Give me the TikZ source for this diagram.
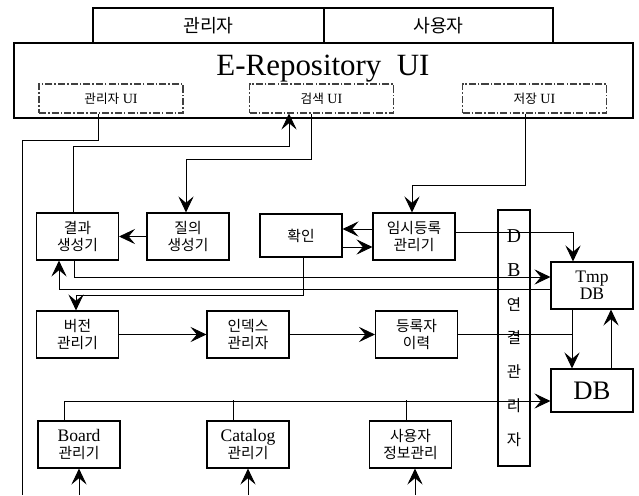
\documentclass[tikz,border=0pt]{standalone}
\usepackage{fontspec}
\setmainfont{Liberation Serif}
\newfontfamily\kr{Noto Sans CJK KR}
\usetikzlibrary{arrows.meta}
\usetikzlibrary{calc}

\begin{document}
\begin{tikzpicture}[x=0.25mm,y=0.25mm,line width=0.6pt,
  blk/.style={draw,line width=0.8pt,minimum width=20.5mm,minimum height=11.75mm,align=center,inner sep=1pt,font=\fontsize{12.5}{12}\selectfont},
  kr/.style={font=\kr\fontsize{10.5}{11.5}\selectfont},
  subui/.style={draw=black!75,line width=0.8pt,dash pattern=on 5pt off 1.5pt on 1pt off 1.5pt,minimum width=36mm,minimum height=7.25mm,font=\fontsize{10}{10}\selectfont},
  arr/.style={-{Stealth[length=4mm,width=3.8mm,inset=1.6mm]}}]
\useasboundingbox (0,0) rectangle (639,495);
\node[draw,line width=0.8pt,minimum width=154.75mm,minimum height=18.75mm] (ui) at (323.5,414.5) {};
\node[draw,line width=0.8pt,minimum width=57.75mm,minimum height=8.75mm,font=\kr\fontsize{13}{15}\selectfont] (tabA) at (208.5,469.5) {관리자};
\node[draw,line width=0.8pt,minimum width=57.25mm,minimum height=8.75mm,font=\kr\fontsize{13}{15}\selectfont] (tabU) at (438.5,469.5) {사용자};
\node[font=\fontsize{22}{26}\selectfont] (title) at (323,426) {E-Repository\ \ UI};
\node[subui] (admUI) at (111,396.5) {{\kr\fontsize{9}{10}\selectfont 관리자} UI};
\node[subui] (srchUI) at (321.5,396.5) {{\kr\fontsize{9}{10}\selectfont 검색} UI};
\node[subui] (saveUI) at (534.5,396.5) {{\kr\fontsize{9}{10}\selectfont 저장} UI};
\node[blk,kr] (res) at (77.5,258.5) {결과\\생성기};
\node[blk,kr] (qry) at (188,258.5) {질의\\생성기};
\node[blk,kr,minimum height=10.75mm] (chk) at (301,259.5) {확인};
\node[blk,kr] (tmpreg) at (414,258.5) {임시등록\\관리기};
\node[blk] (tmpdb) at (592,209.5) {Tmp\\DB};
\node[blk,kr] (ver) at (77.5,160.5) {버전\\관리기};
\node[blk,kr] (idx) at (248,160.5) {인덱스\\관리자};
\node[blk,kr] (hist) at (416.5,160.5) {등록자\\이력};
\node[blk,minimum height=10.75mm,font=\fontsize{19}{20}\selectfont] (db) at (592,104.5) {DB};
\node[blk] (board) at (79,50.5) {Board\\{\kr\fontsize{10.5}{11.5}\selectfont 관리기}};
\node[blk] (catalog) at (248,50.5) {Catalog\\{\kr\fontsize{10.5}{11.5}\selectfont 관리기}};
\node[blk,kr] (user) at (410.5,50.5) {사용자\\정보관리};
\node[draw,line width=0.8pt,minimum width=8mm,minimum height=64mm,inner sep=0pt,align=center,font=\fontsize{14}{24}\selectfont] (dbc) at (514,157) {D\\B\\{\kr\fontsize{11}{24}\selectfont 연}\\{\kr\fontsize{11}{24}\selectfont 결}\\{\kr\fontsize{11}{24}\selectfont 관}\\{\kr\fontsize{11}{24}\selectfont 리}\\{\kr\fontsize{11}{24}\selectfont 자}};
\coordinate (bot) at (0,0);
\coordinate (admEnd) at (22,0);
\coordinate (jn) at ($(tmpdb.south)+(-20,0)$);
\draw ($(admUI.south)+(-13,0)$) -- ++(0,-27) -| (admEnd);
\draw[arr] ($(res.north)+(-4.5,0)$) -- ++(0,66) -| ($(srchUI.south)+(-32.5,0)$);
\draw[arr] ($(srchUI.south)+(-10.5,0)$) -- ++(0,-46) -| ($(qry.north)+(-2,0)$);
\draw[arr] ($(saveUI.south)+(-9.5,0)$) -- ++(0,-72) -| ($(tmpreg.north)+(-2,0)$);
\draw[arr] (qry.west) -- (res.east);
\draw[arr] ($(tmpreg.west)+(0,7.5)$) -- ($(chk.east)+(0,6.5)$);
\draw[arr] ($(chk.east)+(0,-11.5)$) -- ($(tmpreg.west)+(0,-10.5)$);
\draw[arr] ($(tmpreg.east)+(0,4.5)$) -| ($(tmpdb.north)+(-19,0)$);
\draw[arr] ($(res.south)+(-3.5,0)$) |- ($(tmpdb.west)+(0,8.5)$);
\draw[arr] ($(tmpdb.west)+(0,-3.5)$) -| ($(res.south)+(-18.5,0)$);
\draw[arr] ($(chk.south)+(2,0)$) -- ++(0,-38) -| ($(ver.north)+(-1.5,0)$);
\draw[arr] (ver.east) -- (idx.west);
\draw[arr] (idx.east) -- (hist.west);
\draw (hist.east) -- (hist.east -| jn);
\draw[arr] (jn) -- (jn |- db.north);
\draw[arr] ($(db.north)+(19,0)$) -- ($(tmpdb.south)+(19,0)$);
\draw[arr] ($(board.north)+(-15,0)$) |- ($(db.west)+(0,-10.5)$);
\draw ($(catalog.north)+(-15,0)$) -- ++(0,20);
\draw ($(user.north)+(-4.5,0)$) -- ++(0,20);
\draw[arr] (board.south |- bot) -- (board.south);
\draw[arr] (catalog.south |- bot) -- (catalog.south);
\draw[arr] ($(user.south |- bot)+(4.5,0)$) -- ($(user.south)+(4.5,0)$);
\end{tikzpicture}
\end{document}
